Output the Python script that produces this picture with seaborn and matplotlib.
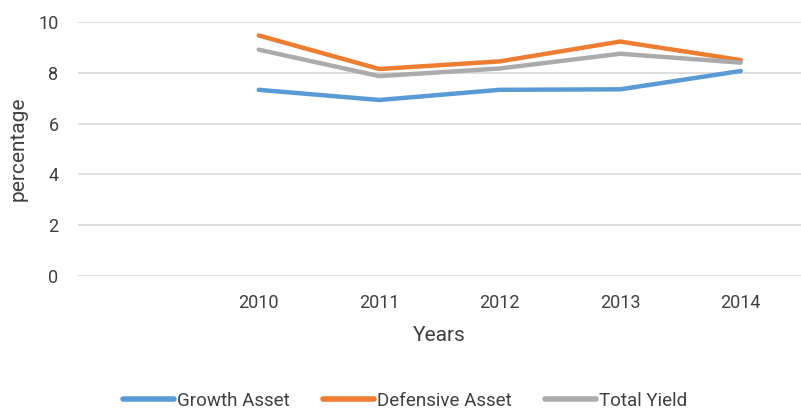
import matplotlib
matplotlib.use("Agg")
import matplotlib.pyplot as plt
import seaborn as sns
import pandas as pd
import numpy as np

categories = ["", "2010", "2011", "2012", "2013", "2014"]
years = ["2010", "2011", "2012", "2013", "2014"]
growth = [7.33, 6.93, 7.33, 7.35, 8.07]
defensive = [9.47, 8.15, 8.45, 9.23, 8.50]
total = [8.91, 7.87, 8.17, 8.75, 8.40]
series_names = ["Growth Asset", "Defensive Asset", "Total Yield"]
colors = ["#5B9BD5", "#ED7D31", "#ABABAE"]

sns.set_theme(style="white")
plt.rcParams['font.family'] = ['Roboto', 'DejaVu Sans']

rows = []
for name, vals in zip(series_names, [growth, defensive, total]):
    for y, v in zip(years, vals):
        rows.append({"pos": categories.index(y), "value": v, "series": name})
df = pd.DataFrame(rows)

fig = plt.figure(figsize=(8.01, 4.12), dpi=100)
ax = fig.add_axes([78/801, 1 - 276/412, (801-78)/801, (276-22)/412])

sns.lineplot(data=df, x="pos", y="value", hue="series", hue_order=series_names,
             palette=colors, linewidth=3.2, ax=ax, legend=False,
             solid_capstyle="round")

ax.set_xlim(-0.5, len(categories) - 0.5)
ax.set_ylim(0, 10)
ax.set_yticks([0, 2, 4, 6, 8, 10])
ax.set_xticks(range(len(categories)))
ax.set_xticklabels(categories)
ax.yaxis.grid(True, color="#D9D9D9", linewidth=1.2)
ax.xaxis.grid(False)
for s in ax.spines.values():
    s.set_visible(False)
ax.tick_params(axis="both", length=0, labelsize=13, colors="#404040")
ax.tick_params(axis="x", pad=13)
ax.tick_params(axis="y", pad=14)
ax.set_xlabel("Years", fontsize=15, color="#404040", labelpad=10)
ax.set_ylabel("percentage", fontsize=15, color="#404040", labelpad=8)

handles = [plt.Line2D([0], [0], color=c, linewidth=4, solid_capstyle="round") for c in colors]
fig.legend(handles, series_names, loc="center", bbox_to_anchor=(405/801, 1 - 401/412),
           ncol=3, frameon=False, fontsize=13.5, handlelength=2.7, handletextpad=0.15,
           columnspacing=1.8, labelcolor="#404040")

fig.savefig("out.png", dpi=100)
